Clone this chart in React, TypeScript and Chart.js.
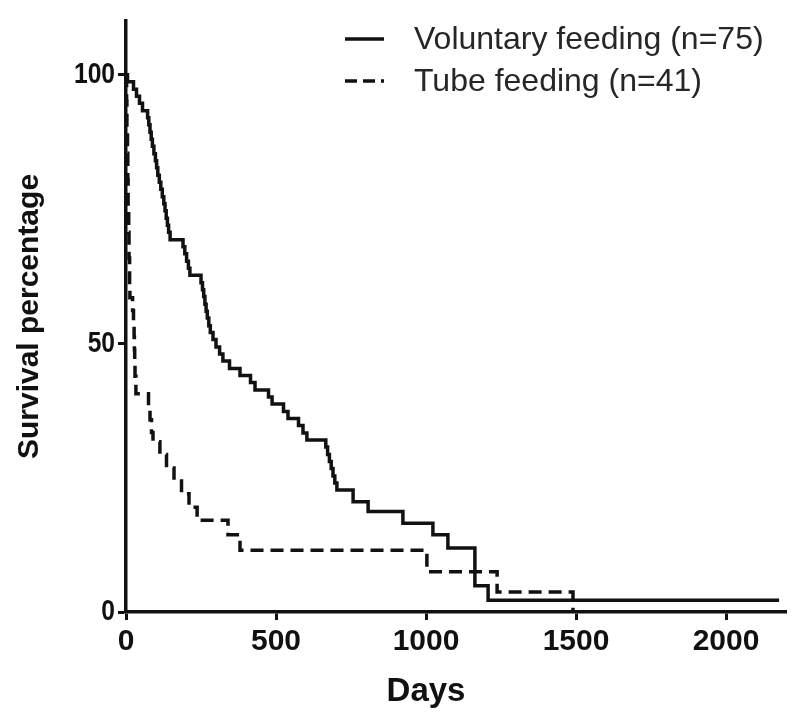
import React, { useEffect, useRef } from "react";
import { Chart, registerables } from "chart.js";

Chart.register(...registerables);

// ---- data ----
const seriesLabels = ["Voluntary feeding (n=75)", "Tube feeding (n=41)"];

const voluntaryDays = [
  0, 5, 25, 35, 45, 55, 72, 76, 80, 84, 88, 93, 98, 102, 106, 111, 116, 121, 126, 130, 134, 138, 142, 147,
  190, 196, 202, 208, 213, 250, 255, 259, 263, 267, 271, 276, 281, 290, 300, 312, 323, 345, 380, 415, 430,
  475, 487, 525, 540, 575, 590, 603, 666, 672, 678, 684, 690, 696, 703, 757, 807, 923, 1023, 1073, 1163,
  1207, 2177,
];
const voluntarySurvival = [
  100, 98.7, 97.3, 96, 94.7, 93.3, 92, 90.7, 89.3, 88, 86.7, 85.3, 84, 82.7, 81.3, 80, 78.7, 77.3, 76, 74.7,
  73.3, 72, 70.7, 69.3, 68, 66.7, 65.3, 64, 62.7, 61.3, 60, 58.7, 57.3, 56, 54.7, 53.3, 52, 50.7, 49.3, 48,
  46.7, 45.3, 44, 42.7, 41.3, 40, 38.7, 37.3, 36, 34.7, 33.3, 32, 30.7, 29.3, 28, 26.7, 25.3, 24, 22.7, 20.5,
  18.7, 16.5, 14.4, 11.9, 4.9, 2.2, 2.2,
];

const tubeDays = [
  0, 2, 3, 5, 6, 7, 9, 10, 12, 13, 22, 25, 27, 28, 29, 30, 33, 75, 80, 85, 90, 113, 135, 160, 185, 210, 237,
  340, 380, 1003, 1237, 1490,
];
const tubeSurvival = [
  100, 95.1, 90.2, 85.4, 80.5, 75.6, 70.7, 65.9, 61, 58.5, 56.1, 53.7, 51.2, 48.8, 46.3, 43.9, 40.6, 38.2,
  35.8, 33.4, 31.7, 29.3, 26.8, 24.4, 22, 19.5, 17.1, 14.4, 11.5, 7.5, 3.7, 0,
];

const xTicks = [0, 500, 1000, 1500, 2000];
const yTicks = [0, 50, 100];
const xTitle = "Days";
const yTitle = "Survival percentage";

const toPoints = (xs: number[], ys: number[]) => xs.map((x, i) => ({ x, y: ys[i] }));

const BOLD_FONT = '"Liberation Sans", Arial, sans-serif';
const TEXT_FONT = '"Liberation Sans", Arial, sans-serif';

// draw a scale's tick labels horizontally condensed (keeps library positions)
function condenseLabels(scale: any, factor: number) {
  if (scale.__condensed) return;
  scale.__condensed = true;
  scale.drawLabels = function (chartArea: any) {
    const ctx = this.ctx;
    const items = this.getLabelItems(chartArea);
    for (const item of items) {
      const o = item.options;
      ctx.save();
      ctx.translate(o.translation[0], o.translation[1]);
      ctx.scale(factor, 1);
      ctx.font = item.font.string;
      ctx.fillStyle = o.color;
      ctx.textAlign = o.textAlign;
      ctx.textBaseline = o.textBaseline;
      ctx.fillText(String(item.label), 0, item.textOffset);
      ctx.restore();
    }
  };
}

const legendPlugin = {
  id: "customLegend",
  afterDraw(chart: any) {
    const ctx = chart.ctx;
    ctx.save();
    chart.data.datasets.forEach((ds: any, i: number) => {
      const y = 39 + i * 42;
      ctx.beginPath();
      ctx.setLineDash(ds.borderDash ? [12, 6] : []);
      ctx.lineWidth = 3.5;
      ctx.strokeStyle = "#111";
      ctx.moveTo(345, y);
      ctx.lineTo(384, y);
      ctx.stroke();
      ctx.setLineDash([]);
      ctx.fillStyle = "#262626";
      ctx.font = `32px ${TEXT_FONT}`;
      ctx.textBaseline = "middle";
      ctx.textAlign = "left";
      ctx.fillText(ds.label, 414, y + 1);
    });
    // x-axis title, centred under the 0–2000 tick range
    const xs = chart.scales.x;
    ctx.font = `bold 33px ${BOLD_FONT}`;
    ctx.fillStyle = "#111";
    ctx.textAlign = "center";
    ctx.textBaseline = "middle";
    ctx.fillText(
      xTitle,
      (xs.getPixelForValue(xTicks[0]) + xs.getPixelForValue(xTicks[xTicks.length - 1])) / 2,
      692
    );
    ctx.restore();
  },
};

export default function App() {
  const ref = useRef<HTMLCanvasElement>(null);
  useEffect(() => {
    if (!ref.current) return;
    const chart = new Chart(ref.current, {
      type: "line",
      data: {
        datasets: [
          {
            label: seriesLabels[0],
            data: toPoints(voluntaryDays, voluntarySurvival),
            stepped: true,
            borderColor: "#111",
            borderWidth: 3.5,
            pointRadius: 0,
            fill: false,
          },
          {
            label: seriesLabels[1],
            data: toPoints(tubeDays, tubeSurvival),
            stepped: true,
            borderColor: "#111",
            borderWidth: 3.5,
            borderDash: [13, 7],
            pointRadius: 0,
            fill: false,
          },
        ],
      },
      plugins: [legendPlugin],
      options: {
        animation: false,
        responsive: false,
        events: [],
        layout: { padding: { top: 10, right: 14, left: 0, bottom: 0 } },
        plugins: { legend: { display: false }, tooltip: { enabled: false } },
        scales: {
          x: {
            type: "linear",
            min: 0,
            max: 2200,
            afterBuildTicks: (s: any) => {
              s.ticks = xTicks.map((v) => ({ value: v }));
            },
            afterFit: (s: any) => {
              s.height = 106;
            },
            ticks: {
              callback: (v: any) => String(v),
              font: { family: BOLD_FONT, weight: "bold", size: 30 },
              color: "#111",
              padding: 4,
              maxRotation: 0,
            },
            grid: {
              drawOnChartArea: false,
              drawTicks: true,
              tickLength: 8,
              tickWidth: 3,
              tickColor: "#111",
            },
            border: { display: true, color: "#111", width: 3.5 },
            title: { display: false, text: xTitle },
          },
          y: {
            type: "linear",
            min: 0,
            max: 110,
            afterBuildTicks: (s: any) => {
              s.ticks = yTicks.map((v) => ({ value: v }));
            },
            afterFit: (s: any) => {
              s.width = 126;
              condenseLabels(s, 0.82);
            },
            ticks: {
              callback: (v: any) => String(v),
              font: { family: BOLD_FONT, weight: "bold", size: 30 },
              color: "#111",
              padding: 3,
            },
            grid: {
              drawOnChartArea: false,
              drawTicks: true,
              tickLength: 8,
              tickWidth: 3,
              tickColor: "#111",
            },
            border: { display: true, color: "#111", width: 3.5 },
            title: {
              display: true,
              text: yTitle,
              font: { family: BOLD_FONT, weight: "bold", size: 30 },
              color: "#111",
              padding: { top: 12, bottom: 0 },
            },
          },
        },
      },
    });
    return () => chart.destroy();
  }, []);
  return (
    <div style={{ position: "absolute", left: 0, top: 0, width: 800, height: 718, background: "#fff" }}>
      <canvas ref={ref} width={800} height={718} />
    </div>
  );
}
